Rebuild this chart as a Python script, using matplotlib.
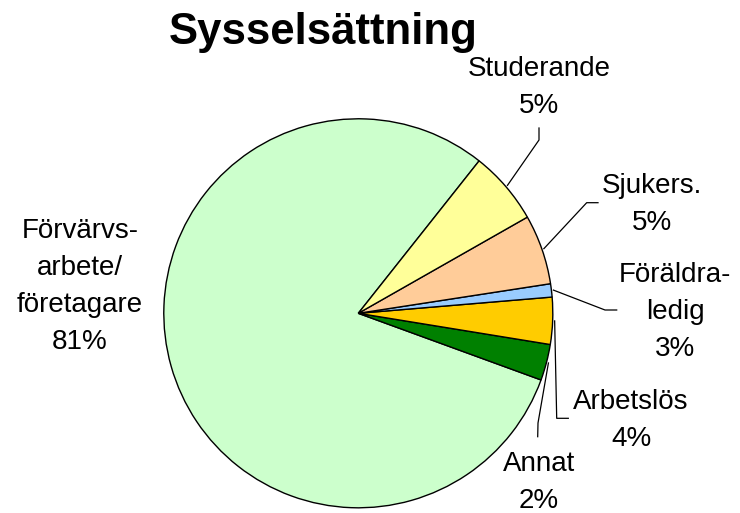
import numpy as np
import matplotlib
matplotlib.use("Agg")
import matplotlib.pyplot as plt

# ---- data ----
categories = ["Förvärvsarbete/företagare", "Annat", "Arbetslös",
              "Föräldraledig", "Sjukers.", "Studerande"]
shares = [80.1, 3.0, 3.9, 1.1, 5.8, 6.1]
label_names = ["Förvärvs-\narbete/\nföretagare", "Annat", "Arbetslös",
               "Föräldra-\nledig", "Sjukers.", "Studerande"]
label_pct = ["81%", "2%", "4%", "3%", "5%", "5%"]
title = "Sysselsättning"

# ---- style / layout ----
colors = ["#CCFFCC", "#008000", "#FFCC00", "#99CCFF", "#FFCC99", "#FFFF99"]
W, H = 740, 513
cx, cy, R = 358.3, H - 313.3, 194.5
# label anchor (centre x, last-line baseline y in pixel-from-top)
label_pos = [(80, 349), (538.7, 508), (631, 446), (675, 356),
             (652, 230), (539, 113)]
# leader polylines: label side points (pixel-from-top); None = no leader
leader_pts = [None,
              [(537.7, 436.7), (538, 423)],
              [(568.3, 418.3), (556.7, 418.3)],
              [(616.7, 310), (605, 310)],
              [(598, 202.7), (586.7, 202.7)],
              [(539, 128), (539, 140)]]

fam = ["Liberation Sans", "DejaVu Sans"]
fig = plt.figure(figsize=(W / 100, H / 100), dpi=100)
ax = fig.add_axes([0, 0, 1, 1])
wedges, _ = ax.pie(shares, colors=colors, startangle=51.6, counterclock=True,
                   center=(cx, cy), radius=R,
                   wedgeprops=dict(edgecolor="black", linewidth=1.0))
ax.set_xlim(0, W)
ax.set_ylim(0, H)
ax.set_aspect("equal")
ax.axis("off")

ax.text(323, H - 44, title, ha="center", va="baseline", fontsize=31.5,
        fontweight="bold", family=fam)

for i, w in enumerate(wedges):
    txt = label_names[i] + "\n" + label_pct[i]
    x, y = label_pos[i]
    ax.text(x, H - y, txt, ha="center", va="baseline", fontsize=20,
            family=fam, linespacing=1.55, multialignment="center")
    if leader_pts[i] is not None:
        mid = np.deg2rad((w.theta1 + w.theta2) / 2)
        ex = cx + (R + 2) * np.cos(mid)
        ey = cy + (R + 2) * np.sin(mid)
        xs = [p[0] for p in leader_pts[i]] + [ex]
        ys = [H - p[1] for p in leader_pts[i]] + [ey]
        ax.plot(xs, ys, color="black", lw=0.9)

fig.savefig("out.png", dpi=100)
